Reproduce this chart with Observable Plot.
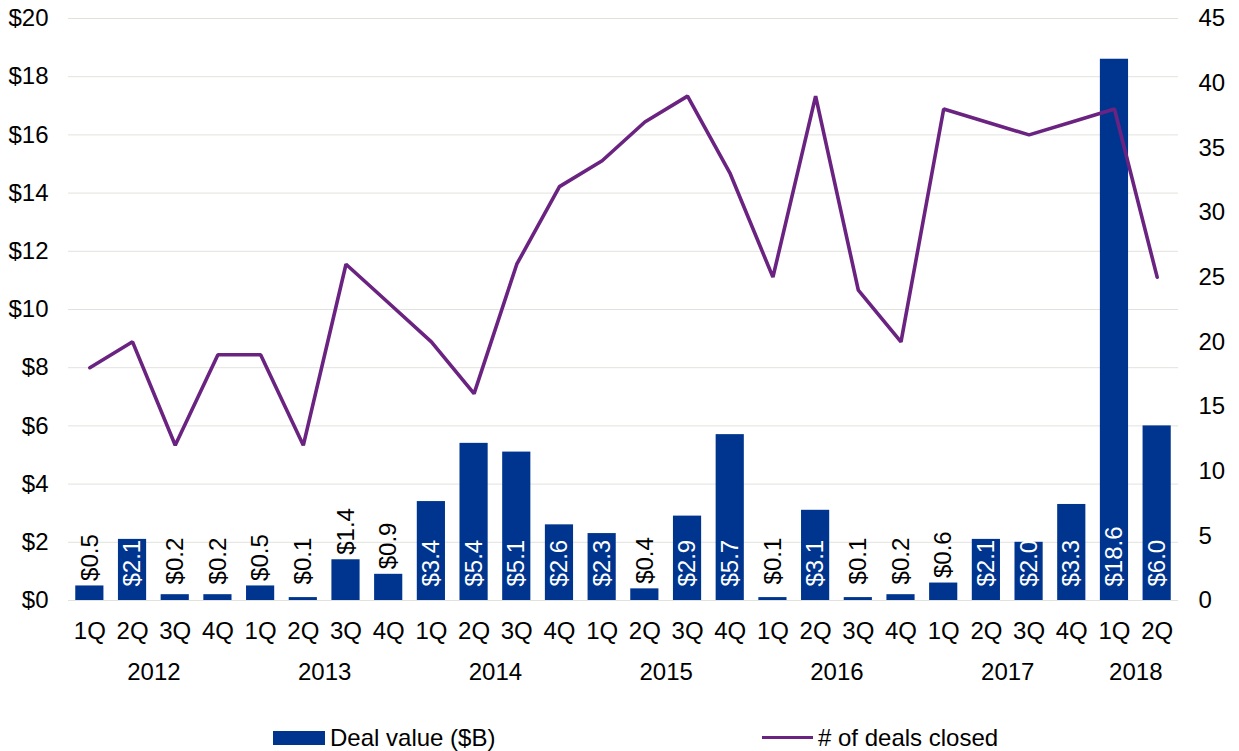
<!DOCTYPE html>
<html>
<head>
<meta charset="utf-8">
<script src="https://cdn.jsdelivr.net/npm/d3@7"></script>
<script src="https://cdn.jsdelivr.net/npm/@observablehq/plot@0.6"></script>
<style>
  body { margin: 0; background: #fff; font-family: "Liberation Sans", Arial, sans-serif; }
  #chart svg { display: block; }
  #legend { position: relative; width: 1239px; height: 41px; font-size: 24px; color: #000; }
  #legend .sw { position: absolute; }
  #legend .lb { position: absolute; line-height: 26px; top: 15px; white-space: nowrap; }
</style>
</head>
<body>
<div id="chart"></div>
<div id="legend">
  <div class="sw" style="left:273px; top:21px; width:52px; height:14px; background:#00358f;"></div>
  <div class="lb" style="left:330px;">Deal value ($B)</div>
  <div class="sw" style="left:762px; top:26px; width:51px; height:3px; background:#6b2381;"></div>
  <div class="lb" style="left:818px;"># of deals closed</div>
</div>
<script>
// ---- data ----
const years = ["2012","2012","2012","2012","2013","2013","2013","2013","2014","2014","2014","2014",
               "2015","2015","2015","2015","2016","2016","2016","2016","2017","2017","2017","2017",
               "2018","2018"];
const quarters = ["1Q","2Q","3Q","4Q","1Q","2Q","3Q","4Q","1Q","2Q","3Q","4Q",
                  "1Q","2Q","3Q","4Q","1Q","2Q","3Q","4Q","1Q","2Q","3Q","4Q",
                  "1Q","2Q"];
const dealValue = [0.5, 2.1, 0.2, 0.2, 0.5, 0.1, 1.4, 0.9, 3.4, 5.4, 5.1, 2.6,
                   2.3, 0.4, 2.9, 5.7, 0.1, 3.1, 0.1, 0.2, 0.6, 2.1, 2.0, 3.3,
                   18.6, 6.0];
const dealCount = [18, 20, 12, 19, 19, 12, 26, 23, 20, 16, 26, 32,
                   34, 37, 39, 33, 25, 39, 24, 20, 38, 37, 36, 37,
                   38, 25];
const yearLabels = ["2012","2013","2014","2015","2016","2017","2018"];
const leftTicks = [0, 2, 4, 6, 8, 10, 12, 14, 16, 18, 20];
const rightTicks = [0, 5, 10, 15, 20, 25, 30, 35, 40, 45];

// ---- build ----
const W = 1239, H = 710;
const mL = 68, mR = 61, mT = 18, mB = 110;
const ratio = 20 / 45; // right-axis count -> left-axis dollars
const barColor = "#00358f";
const lineColor = "#6b2381";
const FS = 24;

const rows = years.map((y, i) => ({
  key: y + " " + quarters[i], year: y, q: quarters[i],
  value: dealValue[i], count: dealCount[i]
}));
const keys = rows.map(d => d.key);
const step = (W - mL - mR) / keys.length;
const inset = step * 0.17;

const yearRows = yearLabels.map(y => {
  const ks = rows.filter(d => d.year === y).map(d => d.key);
  return { year: y, anchor: ks[Math.floor((ks.length - 1) / 2)] };
});

const fmt = v => "$" + v.toFixed(1);

const chart = Plot.plot({
  width: W, height: H,
  marginLeft: mL, marginRight: mR, marginTop: mT, marginBottom: mB,
  style: { fontFamily: "'Liberation Sans', Arial, sans-serif", fontSize: FS + "px", color: "#000", background: "#fff" },
  x: { type: "band", domain: keys, padding: 0, round: false },
  y: { domain: [0, 20] },
  marks: [
    Plot.gridY(leftTicks, { stroke: "#e2e2dd", strokeOpacity: 1, strokeWidth: 1 }),
    Plot.barY(rows, { x: "key", y: "value", fill: barColor, insetLeft: inset, insetRight: inset }),
    // labels inside the bars (white)
    Plot.text(rows.filter(d => d.value >= 2), {
      x: "key", y: () => 0, text: d => fmt(d.value), rotate: -90,
      textAnchor: "start", dy: -14, fill: "#fff", fontSize: FS
    }),
    // labels above short bars (black)
    Plot.text(rows.filter(d => d.value < 2), {
      x: "key", y: d => Math.max(d.value, 0.38), text: d => fmt(d.value), rotate: -90,
      textAnchor: "start", dy: -5, fill: "#000", fontSize: FS
    }),
    Plot.line(rows, { x: "key", y: d => d.count * ratio, stroke: lineColor, strokeWidth: 3.6, strokeLinejoin: "miter" }),
    Plot.axisY(leftTicks, { anchor: "left", tickSize: 0, tickPadding: 20, tickFormat: d => "$" + d, label: null, fontSize: FS }),
    Plot.axisY(rightTicks.map(c => c * ratio), { anchor: "right", tickSize: 0, tickPadding: 20, tickFormat: v => String(Math.round(v / ratio)), label: null, fontSize: FS }),
    Plot.axisX({ tickSize: 0, tickPadding: 21, tickFormat: k => k.split(" ")[1], label: null, fontSize: FS }),
    Plot.text(yearRows, { x: "anchor", text: "year", frameAnchor: "bottom", dy: 79, dx: step / 2, fill: "#000", fontSize: FS })
  ]
});
document.getElementById("chart").appendChild(chart);
</script>
</body>
</html>
